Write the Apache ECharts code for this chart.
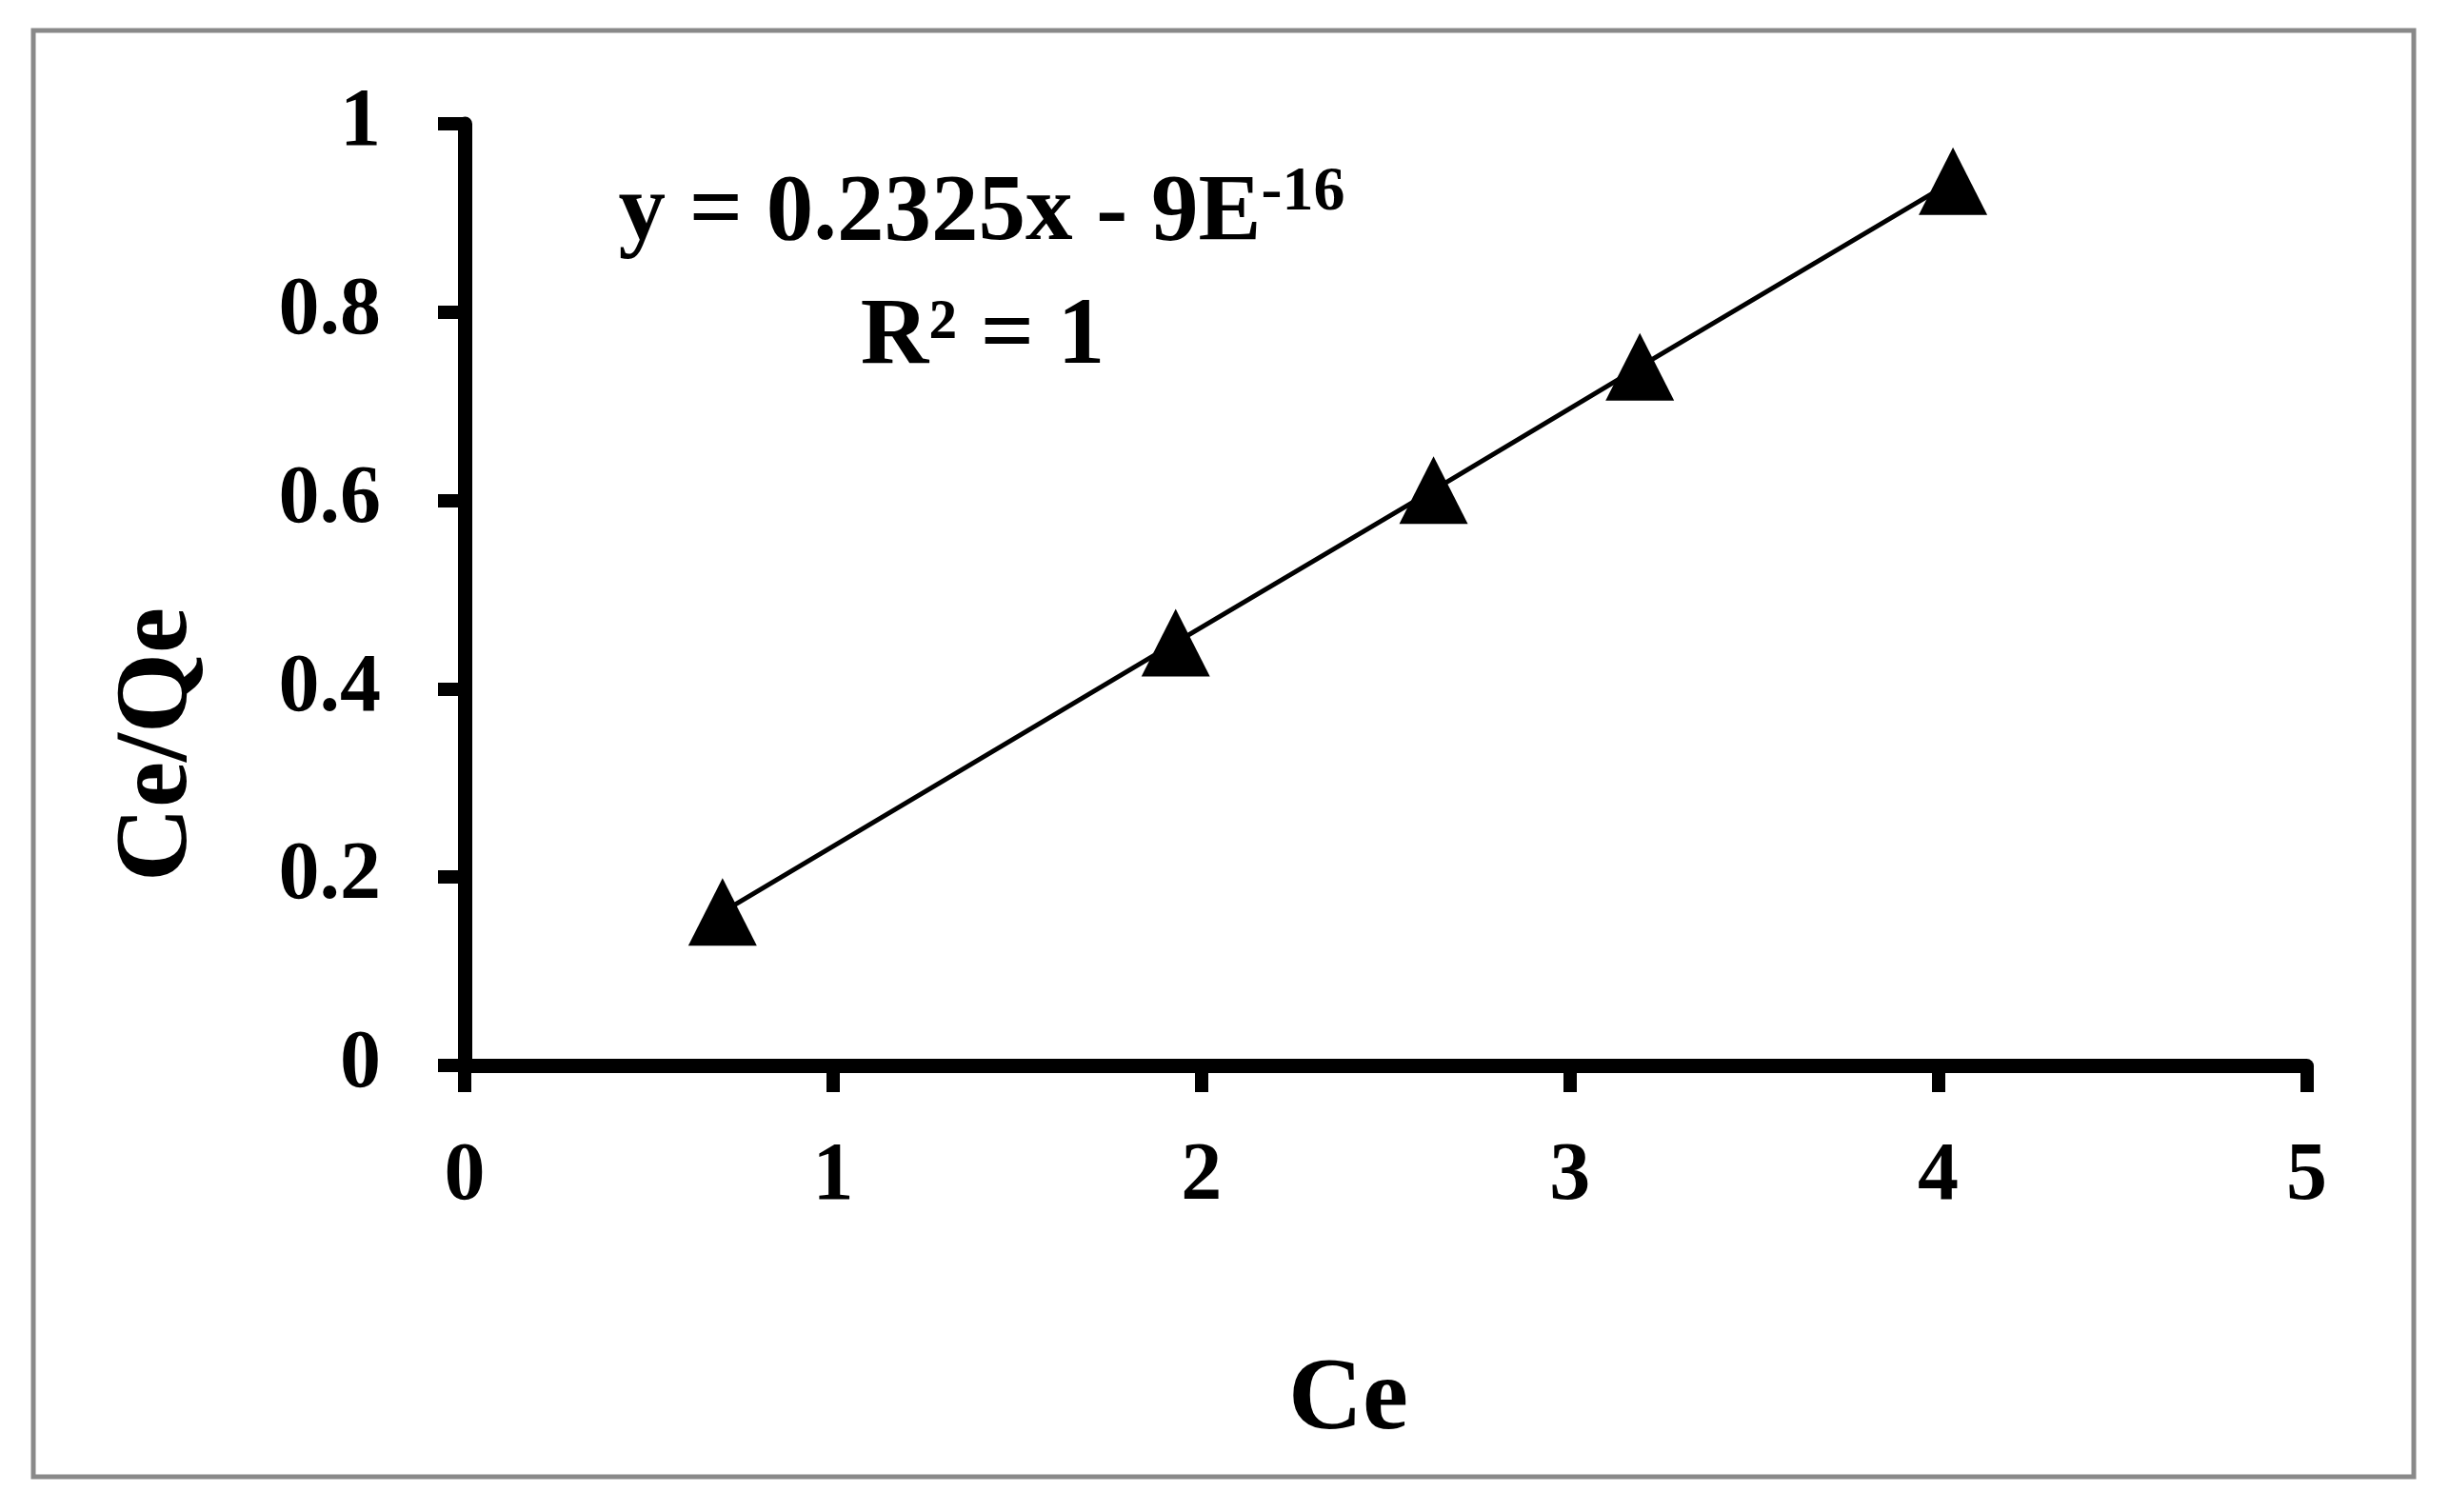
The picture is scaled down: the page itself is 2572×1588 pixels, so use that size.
<!DOCTYPE html>
<html>
<head>
<meta charset="utf-8">
<script src="https://cdn.jsdelivr.net/npm/echarts@6/dist/echarts.min.js"></script>
<style>
html, body { margin: 0; padding: 0; background: #fff; }
#chart { width: 2572px; height: 1588px; }
</style>
</head>
<body>
<div id="chart"></div>
<script>
// Ce vs Ce/Qe
const ceValues = [0.70, 1.93, 2.63, 3.19, 4.04];
const ratioValues = [0.163, 0.449, 0.611, 0.742, 0.939];
const xTicks = [0, 1, 2, 3, 4, 5];
const yTicks = [0, 0.2, 0.4, 0.6, 0.8, 1];
const equationText = 'y = 0.2325x - 9E';
const equationExp = '-16';
const r2Text = 'R² = 1';

const FONT = '"Liberation Serif", "Times New Roman", serif';

const chart = echarts.init(document.getElementById('chart'));

const points = ceValues.map((x, i) => [x, ratioValues[i]]);

const option = {
    animation: false,
    backgroundColor: '#fff',
    grid: { left: 488, right: 149.5, top: 130, bottom: 469 },
    xAxis: {
        type: 'value',
        min: xTicks[0],
        max: xTicks[xTicks.length - 1],
        interval: 1,
        splitLine: { show: false },
        axisLine: { show: true, lineStyle: { color: '#000', width: 15 } },
        axisTick: { show: true, length: 28, lineStyle: { color: '#000', width: 14 } },
        axisLabel: {
            color: '#000', fontFamily: FONT, fontWeight: 'bold', fontSize: 86, margin: 75
        }
    },
    yAxis: {
        type: 'value',
        min: yTicks[0],
        max: yTicks[yTicks.length - 1],
        interval: 0.2,
        splitLine: { show: false },
        axisLine: { show: true, lineStyle: { color: '#000', width: 15 } },
        axisTick: { show: true, length: 28, lineStyle: { color: '#000', width: 14 } },
        axisLabel: {
            color: '#000', fontFamily: FONT, fontWeight: 'bold', fontSize: 86, margin: 88,
            formatter: (v) => String(Math.round(v * 10) / 10)
        }
    },
    series: [
        {
            type: 'line',
            data: points,
            symbol: 'triangle',
            symbolSize: [72, 71],
            itemStyle: { color: '#000' },
            lineStyle: { color: '#000', width: 5 },
            z: 3
        }
    ],
    graphic: [
        {
            type: 'rect',
            shape: { x: 35, y: 32, width: 2500, height: 1519 },
            style: { fill: 'none', stroke: '#898989', lineWidth: 5 },
            z: -1
        },
        {
            type: 'text',
            x: 1031, y: 225,
            style: {
                text: '{m|' + equationText + '}{s|' + equationExp + '}',
                align: 'center',
                verticalAlign: 'middle',
                rich: {
                    m: { fontFamily: FONT, fontWeight: 'bold', fontSize: 99, lineHeight: 110, fill: '#000' },
                    s: { fontFamily: FONT, fontWeight: 'bold', fontSize: 66, lineHeight: 66, verticalAlign: 'top', fill: '#000' }
                }
            }
        },
        {
            type: 'text',
            x: 1032, y: 355,
            style: {
                text: r2Text,
                align: 'center', verticalAlign: 'middle',
                fontFamily: FONT, fontWeight: 'bold', fontSize: 99, fill: '#000'
            }
        },
        {
            type: 'text',
            x: 1416, y: 1472,
            style: {
                text: 'Ce',
                align: 'center', verticalAlign: 'middle',
                fontFamily: FONT, fontWeight: 'bold', fontSize: 108, fill: '#000'
            }
        },
        {
            type: 'text',
            x: 167, y: 782,
            rotation: Math.PI / 2,
            style: {
                text: 'Ce/Qe',
                align: 'center', verticalAlign: 'middle',
                fontFamily: FONT, fontWeight: 'bold', fontSize: 108, fill: '#000'
            }
        }
    ]
};

chart.setOption(option);
</script>
</body>
</html>
